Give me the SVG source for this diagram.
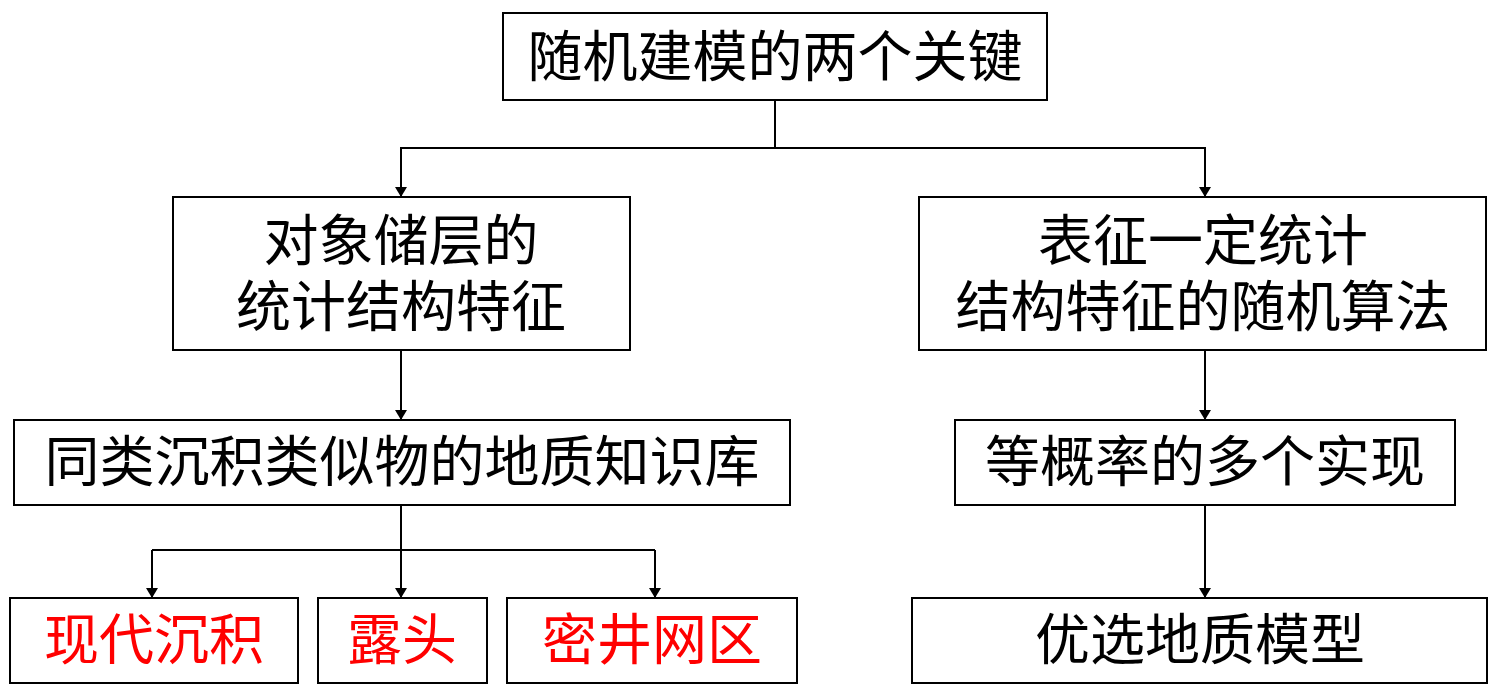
<svg xmlns="http://www.w3.org/2000/svg" width="1500" height="689" viewBox="0 0 1500 689">
<defs>
<style>
.b{fill:#fff;stroke:#000;stroke-width:2}
.t{font-family:"Liberation Sans","Noto Sans CJK SC",sans-serif;font-size:55px;text-anchor:middle;dominant-baseline:central;fill:#000}
.r{fill:#f00}
.c{fill:none;stroke:#000;stroke-width:2}
</style>
<marker id="a" markerWidth="10" markerHeight="12" refX="9" refY="6" orient="auto" markerUnits="userSpaceOnUse"><path d="M0,0L10,6L0,12z" fill="#000"/></marker>
</defs>
<rect width="1500" height="689" fill="#fff"/>
<g id="connectors">
<path class="c" d="M775,100V148"/>
<path class="c" d="M775,148H401V196" marker-end="url(#a)"/>
<path class="c" d="M775,148H1205V196" marker-end="url(#a)"/>
<path class="c" d="M401,350V419" marker-end="url(#a)"/>
<path class="c" d="M1205,350V419" marker-end="url(#a)"/>
<path class="c" d="M401,505V597" marker-end="url(#a)"/>
<path class="c" d="M152,550H655"/>
<path class="c" d="M152,550V597" marker-end="url(#a)"/>
<path class="c" d="M655,550V597" marker-end="url(#a)"/>
<path class="c" d="M1205,505V597" marker-end="url(#a)"/>
</g>
<g id="n1"><rect class="b" x="503" y="13" width="544" height="87"/><text class="t" x="775" y="57">随机建模的两个关键</text></g>
<g id="n2"><rect class="b" x="173" y="197" width="457" height="153"/><text class="t" x="401" y="241">对象储层的</text><text class="t" x="401" y="307">统计结构特征</text></g>
<g id="n3"><rect class="b" x="919" y="197" width="567" height="153"/><text class="t" x="1203" y="241">表征一定统计</text><text class="t" x="1203" y="307">结构特征的随机算法</text></g>
<g id="n4"><rect class="b" x="14" y="420" width="776" height="85"/><text class="t" x="402" y="462">同类沉积类似物的地质知识库</text></g>
<g id="n5"><rect class="b" x="955" y="420" width="500" height="85"/><text class="t" x="1205" y="462">等概率的多个实现</text></g>
<g id="n6"><rect class="b" x="10" y="598" width="288" height="85"/><text class="t r" x="154" y="640">现代沉积</text></g>
<g id="n7"><rect class="b" x="318" y="598" width="169" height="85"/><text class="t r" x="402" y="640">露头</text></g>
<g id="n8"><rect class="b" x="507" y="598" width="290" height="85"/><text class="t r" x="652" y="640">密井网区</text></g>
<g id="n9"><rect class="b" x="912" y="598" width="575" height="85"/><text class="t" x="1200" y="640">优选地质模型</text></g>
</svg>
